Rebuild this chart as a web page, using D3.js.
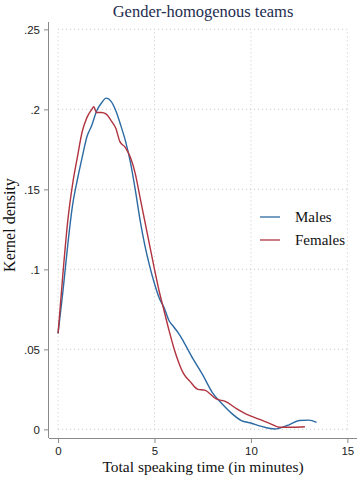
<!DOCTYPE html>
<html>
<head>
<meta charset="utf-8">
<script src="https://cdn.jsdelivr.net/npm/d3@7"></script>
<style>
  body { margin: 0; background: #fff; }
  svg { display: block; font-family: "Liberation Serif", "DejaVu Serif", serif; }
  .grid line { stroke: #c8c8c8; stroke-dasharray: 1 3; }
  .axis path, .axis line { stroke: #8a8a8a; }
  .axis text { fill: #222; font-size: 11.5px; }
</style>
</head>
<body>
<div id="chart"></div>
<script>
// kernel density estimates
const malesX = [0, 0.25, 0.5, 0.75, 1, 1.25, 1.5, 1.75, 2, 2.25, 2.5, 2.75, 3, 3.25, 3.5, 3.75, 4, 4.25, 4.5, 4.75, 5, 5.25, 5.5, 5.75, 6, 6.25, 6.5, 7, 7.5, 8, 8.5, 9, 9.5, 10, 10.5, 11, 11.25, 11.5, 12, 12.5, 13, 13.4];
const malesY = [0.060, 0.086, 0.115, 0.140, 0.156, 0.170, 0.183, 0.190, 0.199, 0.204, 0.207, 0.205, 0.199, 0.190, 0.180, 0.167, 0.150, 0.131, 0.115, 0.102, 0.091, 0.082, 0.076, 0.068, 0.064, 0.060, 0.055, 0.044, 0.034, 0.023, 0.016, 0.010, 0.0055, 0.004, 0.002, 0.0005, 0.0002, 0.0008, 0.003, 0.0055, 0.0058, 0.0044];
const femalesX = [0, 0.25, 0.5, 0.75, 1, 1.25, 1.5, 1.75, 1.85, 2, 2.25, 2.5, 2.75, 3, 3.2, 3.5, 3.75, 4, 4.25, 4.5, 4.75, 5, 5.25, 5.5, 5.75, 6, 6.25, 6.5, 6.84, 7.25, 7.6, 8.2, 8.7, 9.25, 9.85, 10.45, 11.05, 11.5, 12.2, 12.8];
const femalesY = [0.060, 0.097, 0.130, 0.153, 0.170, 0.186, 0.195, 0.200, 0.2016, 0.198, 0.198, 0.197, 0.193, 0.188, 0.180, 0.176, 0.170, 0.160, 0.145, 0.130, 0.115, 0.100, 0.086, 0.074, 0.062, 0.051, 0.042, 0.035, 0.030, 0.025, 0.0245, 0.019, 0.0173, 0.013, 0.009, 0.0062, 0.0033, 0.0013, 0.0013, 0.0016];

const xTicks = [0, 5, 10, 15];
const yTicks = [0, 0.05, 0.1, 0.15, 0.2, 0.25];
const yTickLabels = ["0", ".05", ".1", ".15", ".2", ".25"];
const seriesNames = ["Males", "Females"];
const colors = ["#2b6aa3", "#b0333f"];

const W = 357, H = 477;
const margin = { top: 22, right: 0, bottom: 39, left: 49 };

const svg = d3.select("#chart").append("svg")
    .attr("width", W)
    .attr("height", H);

const x = d3.scaleLinear().domain([-0.47, 15.5]).range([margin.left, W - margin.right]);
const y = d3.scaleLinear().domain([-0.0054, 0.2546]).range([H - margin.bottom, margin.top]);

// title
svg.append("text")
    .attr("x", 203).attr("y", 17)
    .attr("text-anchor", "middle")
    .attr("fill", "#1e2d50")
    .style("font-size", "16.5px")
    .text("Gender-homogenous teams");

// dotted grid
const grid = svg.append("g").attr("class", "grid");
grid.selectAll(".gy").data(yTicks).enter().append("line")
    .attr("x1", x(0)).attr("x2", x(15))
    .attr("y1", d => y(d)).attr("y2", d => y(d));
grid.selectAll(".gx").data(xTicks).enter().append("line")
    .attr("x1", d => x(d)).attr("x2", d => x(d))
    .attr("y1", y(0)).attr("y2", y(0.25));

// axes
svg.append("g")
    .attr("class", "axis")
    .attr("transform", `translate(0, ${H - margin.bottom})`)
    .call(d3.axisBottom(x).tickValues(xTicks).tickSize(5).tickPadding(4).tickFormat(d3.format("d")))
    .call(g => g.select(".domain").attr("d", `M${margin.left},0.5H${W}`));

svg.append("g")
    .attr("class", "axis")
    .attr("transform", `translate(${margin.left}, 0)`)
    .call(d3.axisLeft(y).tickValues(yTicks).tickSize(5).tickPadding(4)
        .tickFormat((d, i) => yTickLabels[i]))
    .call(g => g.select(".domain").attr("d", `M-0.5,${margin.top}V${H - margin.bottom}`));

// axis titles
svg.append("text")
    .attr("x", 203).attr("y", 472)
    .attr("text-anchor", "middle")
    .attr("fill", "#111")
    .style("font-size", "15.5px")
    .text("Total speaking time (in minutes)");

svg.append("text")
    .attr("transform", "translate(15, 225) rotate(-90)")
    .attr("text-anchor", "middle")
    .attr("fill", "#111")
    .style("font-size", "16px")
    .text("Kernel density");

// density lines
const line = d3.line()
    .x(d => x(d[0]))
    .y(d => y(d[1]))
    .curve(d3.curveMonotoneX);

const series = [
    d3.zip(malesX, malesY),
    d3.zip(femalesX, femalesY)
];

svg.selectAll(".kde").data(series).enter().append("path")
    .attr("class", "kde")
    .attr("fill", "none")
    .attr("stroke", (d, i) => colors[i])
    .attr("stroke-width", 1.4)
    .attr("d", line);

// legend
const legend = svg.append("g").attr("transform", "translate(260, 217)");
const items = legend.selectAll("g").data(seriesNames).enter().append("g")
    .attr("transform", (d, i) => `translate(0, ${i * 23})`);
items.append("line")
    .attr("x1", 0).attr("x2", 20)
    .attr("stroke", (d, i) => colors[i])
    .attr("stroke-width", 1.6)
    .attr("opacity", 0.8);
items.append("text")
    .attr("x", 35).attr("y", 5)
    .attr("fill", "#111")
    .style("font-size", "15px")
    .text(d => d);
</script>
</body>
</html>
